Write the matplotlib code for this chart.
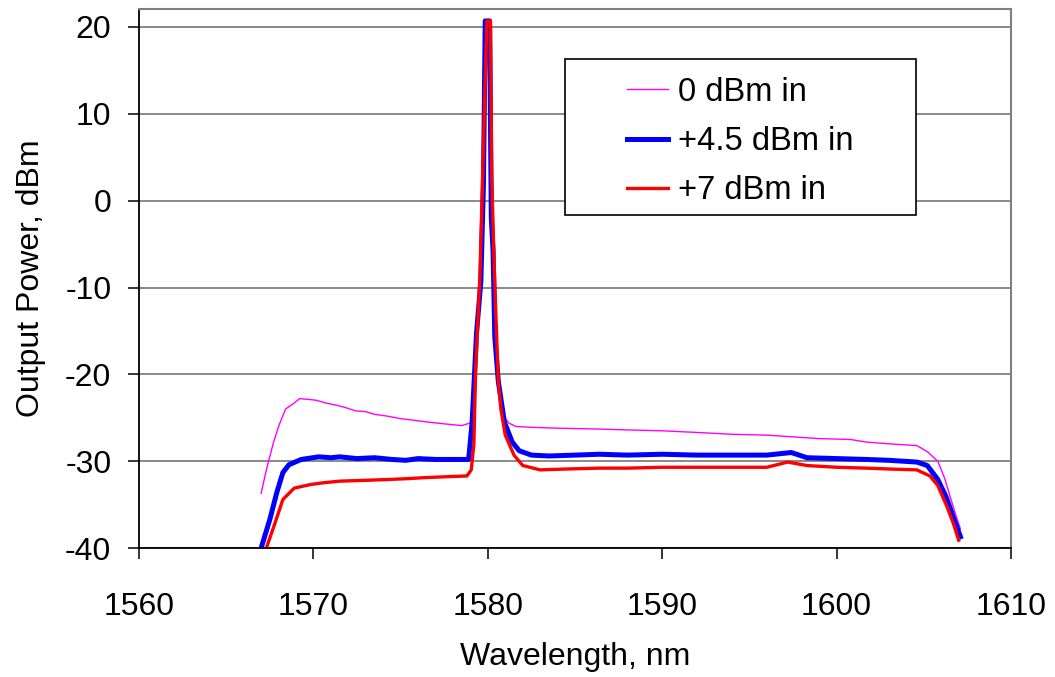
#! /usr/bin/env python3
"""Output spectrum of the amplifier for three input powers."""
import matplotlib

matplotlib.use("Agg")
import matplotlib.pyplot as plt
from matplotlib.patches import Rectangle

plt.rcParams["font.family"] = ["Liberation Sans", "DejaVu Sans"]
plt.rcParams["axes.unicode_minus"] = False

# 0 dBm input
wl_0 = [1567.0, 1567.3, 1567.7, 1568.0, 1568.4, 1568.9, 1569.2, 1569.8, 1570.2,
        1570.7, 1571.2, 1571.8, 1572.4, 1573.0, 1573.5, 1574.2, 1575.0, 1575.8,
        1576.6, 1577.5, 1578.5, 1579.0, 1579.2, 1579.4, 1579.6, 1579.75, 1579.85,
        1580.1, 1580.2, 1580.35, 1580.5, 1580.7, 1580.9, 1581.2, 1581.6, 1582.5,
        1584.0, 1586.4, 1588.0, 1590.0, 1592.1, 1594.0, 1596.0, 1597.5, 1599.0,
        1600.8, 1601.7, 1603.0, 1604.6, 1605.2, 1605.8, 1606.2, 1606.5, 1606.8,
        1607.1]
p_0 = [-33.7, -31.0, -27.9, -26.0, -24.0, -23.3, -22.8, -22.9, -23.0,
       -23.3, -23.5, -23.8, -24.2, -24.3, -24.6, -24.8, -25.1, -25.3,
       -25.5, -25.7, -25.9, -25.6, -22.0, -15.0, -8.0, 5.0, 20.7,
       20.7, 0.0, -12.0, -19.0, -23.0, -24.8, -25.6, -26.0, -26.1,
       -26.2, -26.3, -26.4, -26.5, -26.7, -26.9, -27.0, -27.2, -27.4,
       -27.5, -27.8, -28.0, -28.2, -28.9, -30.0, -32.0, -34.0, -36.0,
       -37.8]

# +4.5 dBm input
wl_45 = [1567.0, 1567.5, 1567.9, 1568.25, 1568.6, 1569.3, 1570.3, 1571.0, 1571.5,
         1572.5, 1573.5, 1574.5, 1575.3, 1576.0, 1577.0, 1578.0, 1578.9, 1579.1,
         1579.35, 1579.6, 1579.75, 1579.85, 1580.1, 1580.2, 1580.3, 1580.4, 1580.6,
         1580.95, 1581.4, 1581.8, 1582.5, 1583.5, 1585.0, 1586.4, 1588.0, 1590.0,
         1592.0, 1594.0, 1596.0, 1597.4, 1598.3, 1600.0, 1601.7, 1603.0, 1604.6,
         1605.2, 1605.8, 1606.3, 1606.7, 1607.1]
p_45 = [-40.0, -36.7, -33.6, -31.3, -30.4, -29.8, -29.5, -29.6, -29.5,
        -29.7, -29.6, -29.8, -29.9, -29.7, -29.8, -29.8, -29.8, -25.5,
        -15.3, -9.3, 2.0, 20.7, 20.7, -2.0, -5.8, -15.7, -20.8,
        -25.5, -27.8, -28.8, -29.3, -29.4, -29.3, -29.2, -29.3, -29.2,
        -29.3, -29.3, -29.3, -29.0, -29.6, -29.7, -29.8, -29.9, -30.1,
        -30.5, -32.1, -34.2, -36.5, -38.7]

# +7 dBm input
wl_7 = [1567.3, 1567.8, 1568.25, 1568.9, 1569.8, 1570.5, 1571.5, 1573.0, 1574.4,
        1575.5, 1576.3, 1577.5, 1578.8, 1579.05, 1579.2, 1579.3, 1579.55, 1579.85,
        1579.95, 1580.15, 1580.22, 1580.34, 1580.45, 1580.6, 1580.75, 1581.0, 1581.5,
        1582.0, 1583.0, 1584.5, 1586.4, 1588.0, 1590.0, 1592.0, 1594.0, 1596.0,
        1597.2, 1598.3, 1600.0, 1601.7, 1603.0, 1604.6, 1605.35, 1605.8, 1606.3,
        1606.7, 1607.0]
p_7 = [-40.0, -37.1, -34.4, -33.1, -32.7, -32.5, -32.3, -32.2, -32.1,
       -32.0, -31.9, -31.8, -31.7, -31.0, -28.0, -19.6, -8.5, 14.0,
       20.7, 20.7, 3.0, -5.8, -12.5, -20.8, -24.0, -27.0, -29.3,
       -30.5, -31.0, -30.9, -30.8, -30.8, -30.7, -30.7, -30.7, -30.7,
       -30.1, -30.5, -30.7, -30.8, -30.9, -31.0, -31.7, -32.8, -35.1,
       -37.2, -39.1]

labels = ["0 dBm in", "+4.5 dBm in", "+7 dBm in"]
x_ticks = [1560, 1570, 1580, 1590, 1600, 1610]
y_ticks = [-40, -30, -20, -10, 0, 10, 20]

fig = plt.figure(figsize=(10.55, 6.77), dpi=100)
ax = fig.add_axes([0.1318, 0.1905, 0.8265, 0.7962])

ax.plot(wl_0, p_0, color="#ff00ff", lw=1.0, label=labels[0])
ax.plot(wl_45, p_45, color="#0000ff", lw=3.6, label=labels[1],
        solid_joinstyle="round")
ax.plot(wl_7, p_7, color="#ff0000", lw=2.4, label=labels[2],
        solid_joinstyle="round")

ax.set_xlim(1560, 1610)
ax.set_ylim(-40, 22.07)
ax.set_xticks(x_ticks)
ax.set_yticks(y_ticks)
ax.yaxis.grid(True, color="#808080", lw=1.3)
ax.set_axisbelow(True)

for side in ("left", "bottom"):
    ax.spines[side].set_color("black")
    ax.spines[side].set_linewidth(1.3)
for side in ("top", "right"):
    ax.spines[side].set_color("#808080")
    ax.spines[side].set_linewidth(1.5)

ax.tick_params(axis="x", direction="out", length=8, width=1.1, pad=24, labelsize=23)
ax.tick_params(axis="y", direction="out", length=8, width=1.1, pad=12, labelsize=23)

ax.set_xlabel("Wavelength, nm", fontsize=23, labelpad=14)
ax.set_ylabel("Output Power, dBm", fontsize=23, labelpad=14)

# legend box, Excel style
ax.add_patch(Rectangle((0.4885, 0.618), 0.4025, 0.289, transform=ax.transAxes,
                       facecolor="white", edgecolor="black", lw=1.2, zorder=4))
ax.legend(loc="center", bbox_to_anchor=(0.6898, 0.754), frameon=False,
          fontsize=23.5, handlelength=1.25, handletextpad=0.3, labelspacing=0.56)

fig.savefig("out.png", dpi=100)
